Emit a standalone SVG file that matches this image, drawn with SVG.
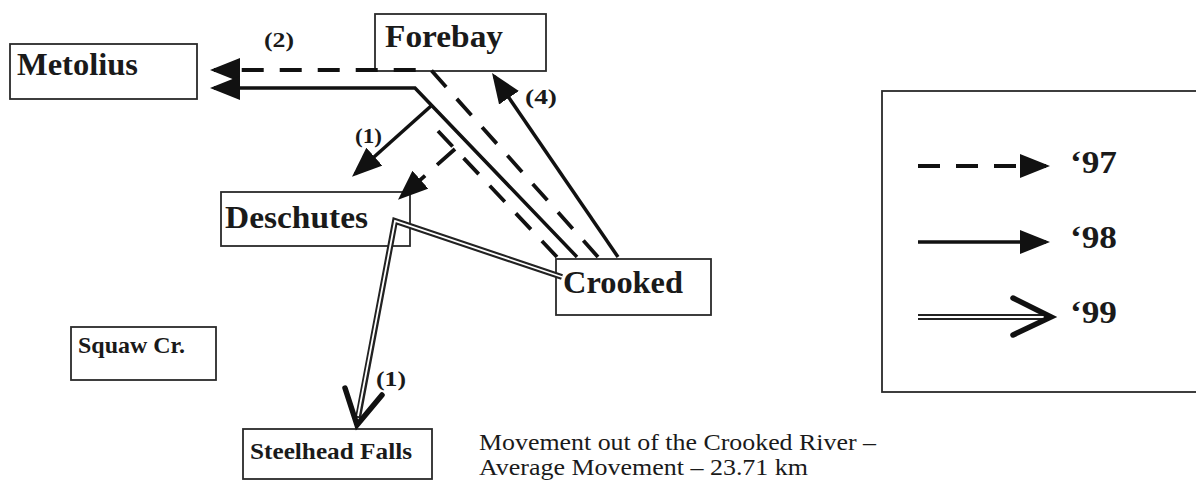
<svg xmlns="http://www.w3.org/2000/svg" width="1196" height="481" viewBox="0 0 1196 481">
  <style>
    .box { fill: #fff; stroke: #2a2a2a; stroke-width: 1.8; }
    .lbl { font-family: "Liberation Serif", "Times New Roman", serif; font-weight: bold; fill: #1a1a1a; }
    .big { font-size: 32px; }
    .small { font-size: 23px; }
    .num { font-family: "Liberation Serif", "Times New Roman", serif; font-weight: bold; font-size: 20px; fill: #1a1a1a; }
    .cap { font-family: "Liberation Serif", "Times New Roman", serif; font-size: 24px; fill: #1a1a1a; }
    .solid { fill: none; stroke: #111; stroke-width: 3.5; stroke-linejoin: miter; }
    .dash { fill: none; stroke: #111; stroke-width: 3.8; stroke-dasharray: 22 16; }
    .dblo { fill: none; stroke: #222; stroke-width: 6; stroke-linejoin: miter; }
    .dbli { fill: none; stroke: #fff; stroke-width: 1.8; stroke-linejoin: miter; }
    .chev { fill: none; stroke: #111; stroke-width: 5.5; stroke-linecap: round; stroke-linejoin: miter; }
  </style>
  <defs>
    <marker id="tri" viewBox="0 0 30 24" markerWidth="30" markerHeight="24" refX="26" refY="12" orient="auto" markerUnits="userSpaceOnUse">
      <path d="M0,0 L30,12 L0,24 z" fill="#111"/>
    </marker>
  </defs>

  <rect width="1196" height="481" fill="#fff"/>

  <g id="node-metolius">
    <rect class="box" x="10" y="44" width="187" height="55"/>
    <text class="lbl big" x="17" y="75" textLength="121" lengthAdjust="spacingAndGlyphs">Metolius</text>
  </g>
  <g id="node-forebay">
    <rect class="box" x="375" y="14" width="171" height="57"/>
    <text class="lbl big" x="385" y="47" textLength="118" lengthAdjust="spacingAndGlyphs">Forebay</text>
  </g>
  <g id="node-deschutes">
    <rect class="box" x="221" y="192" width="189" height="54"/>
    <text class="lbl big" x="225" y="228" textLength="143" lengthAdjust="spacingAndGlyphs">Deschutes</text>
  </g>
  <g id="node-crooked">
    <rect class="box" x="556" y="259" width="155" height="56"/>
    <text class="lbl big" x="563" y="293" textLength="120" lengthAdjust="spacingAndGlyphs">Crooked</text>
  </g>
  <g id="node-squaw">
    <rect class="box" x="71" y="327" width="145" height="53"/>
    <text class="lbl small" x="78" y="353" textLength="107" lengthAdjust="spacingAndGlyphs">Squaw Cr.</text>
  </g>
  <g id="node-steelhead">
    <rect class="box" x="243" y="429" width="189" height="50"/>
    <text class="lbl small" x="250" y="459" textLength="162" lengthAdjust="spacingAndGlyphs">Steelhead Falls</text>
  </g>

  <g id="legend">
    <rect class="box" x="882" y="91" width="330" height="301"/>
    <path class="dash" d="M918,166 L1046,166" marker-end="url(#tri)"/>
    <text class="lbl big" x="1070" y="173" textLength="47" lengthAdjust="spacingAndGlyphs">‘97</text>
    <path class="solid" d="M918,242 L1046,242" marker-end="url(#tri)"/>
    <text class="lbl big" x="1070" y="248" textLength="47" lengthAdjust="spacingAndGlyphs">‘98</text>
    <path class="dblo" d="M918,317 L1046,317"/>
    <path class="dbli" d="M918,317 L1044,317"/>
    <path class="chev" d="M1013,298 L1051,317 L1013,335"/>
    <text class="lbl big" x="1070" y="323" textLength="47" lengthAdjust="spacingAndGlyphs">‘99</text>
  </g>

  <g id="connectors">
    <!-- '97 Crooked -> Metolius -->
    <path class="dash" d="M598,257 L431,70 L214,70" marker-end="url(#tri)"/>
    <!-- '98 Crooked -> Metolius -->
    <path class="solid" d="M577,257 L415,88 L214,88" marker-end="url(#tri)"/>
    <!-- '98 branch -> Deschutes -->
    <path class="solid" d="M431,106 L355,174" marker-end="url(#tri)"/>
    <!-- '98 Crooked -> Forebay -->
    <path class="solid" d="M618,257 L494.3,76.3" marker-end="url(#tri)"/>
    <!-- '97 Crooked -> Deschutes -->
    <path class="dash" d="M557,257 L438,131"/>
    <path class="dash" style="stroke-dasharray: 24 16" d="M455,149 L401,197" marker-end="url(#tri)"/>
    <!-- '99 Crooked -> Deschutes -> Steelhead Falls -->
    <path class="dblo" d="M562,277 L395,221 L358,418"/>
    <path class="dbli" d="M562,277 L395,221 L358,416"/>
    <path class="chev" d="M345,388 L357,425 L382,395"/>
  </g>

  <g id="labels">
    <text class="num" x="264" y="47" textLength="30" lengthAdjust="spacingAndGlyphs">(2)</text>
    <text class="num" x="355" y="143" textLength="27" lengthAdjust="spacingAndGlyphs">(1)</text>
    <text class="num" x="525" y="104" textLength="32" lengthAdjust="spacingAndGlyphs">(4)</text>
    <text class="num" x="376" y="386" textLength="30" lengthAdjust="spacingAndGlyphs">(1)</text>
  </g>

  <g id="caption">
    <text class="cap" x="479" y="450" textLength="397" lengthAdjust="spacingAndGlyphs">Movement out of the Crooked River –</text>
    <text class="cap" x="479" y="475" textLength="329" lengthAdjust="spacingAndGlyphs">Average Movement – 23.71 km</text>
  </g>
</svg>
